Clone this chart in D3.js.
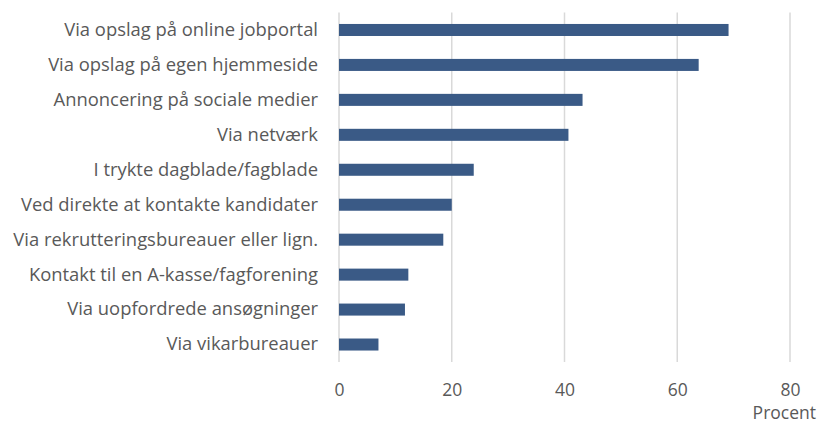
<!DOCTYPE html>
<html>
<head>
<meta charset="utf-8">
<script src="https://cdn.jsdelivr.net/npm/d3@7"></script>
<style>
  body { margin: 0; background: #fff; }
  text { font-family: "Open Sans", sans-serif; fill: #595959; }
</style>
</head>
<body>
<div class="chart"></div>
<script>
var categories = [
    "Via opslag på online jobportal",
    "Via opslag på egen hjemmeside",
    "Annoncering på sociale medier",
    "Via netværk",
    "I trykte dagblade/fagblade",
    "Ved direkte at kontakte kandidater",
    "Via rekrutteringsbureauer eller lign.",
    "Kontakt til en A-kasse/fagforening",
    "Via uopfordrede ansøgninger",
    "Via vikarbureauer"
];
var values = [69.1, 63.8, 43.2, 40.7, 23.9, 20.0, 18.5, 12.3, 11.7, 7.0];
var ticks = [0, 20, 40, 60, 80];
var axisTitle = "Procent";

var width = 819, height = 423;
var plotLeft = 339, plotRight = 790, plotTop = 12.5, plotBottom = 362;

var svg = d3.select(".chart")
    .append("svg")
    .attr("width", width)
    .attr("height", height);

var x = d3.scaleLinear().domain([0, 80]).range([plotLeft, plotRight]);
var y = d3.scaleBand()
    .domain(categories)
    .range([plotTop, plotBottom])
    .paddingInner(0.656)
    .paddingOuter(0.328);

// gridlines
svg.append("g")
    .selectAll("line")
    .data(ticks)
    .enter()
    .append("line")
    .attr("x1", function (d) { return x(d); })
    .attr("x2", function (d) { return x(d); })
    .attr("y1", plotTop)
    .attr("y2", plotBottom)
    .attr("stroke", "#d9d9d9")
    .attr("stroke-width", 1.5);

// bars
svg.append("g")
    .selectAll("rect")
    .data(values)
    .enter()
    .append("rect")
    .attr("x", x(0))
    .attr("y", function (d, i) { return y(categories[i]); })
    .attr("width", function (d) { return x(d) - x(0); })
    .attr("height", y.bandwidth())
    .attr("fill", "#3a5a86");

// x axis labels
var xAxis = d3.axisBottom(x).tickValues(ticks).tickSize(0).tickPadding(0);
var gx = svg.append("g")
    .attr("transform", "translate(0," + 390 + ")")
    .call(xAxis);
gx.select(".domain").remove();
gx.selectAll("text")
    .attr("y", 0)
    .attr("dy", "0.35em")
    .style("font-size", "17.5px")
    .style("font-family", "'Open Sans', sans-serif")
    .attr("fill", "#595959");

// y axis labels
var yAxis = d3.axisLeft(y).tickSize(0).tickPadding(0);
var gy = svg.append("g")
    .attr("transform", "translate(" + 318 + ",0)")
    .call(yAxis);
gy.select(".domain").remove();
gy.selectAll("text")
    .style("font-size", "18.4px")
    .style("font-family", "'Open Sans', sans-serif")
    .attr("fill", "#595959");

svg.append("text")
    .attr("x", 816)
    .attr("y", 419)
    .attr("text-anchor", "end")
    .style("font-size", "17.5px")
    .text(axisTitle);
</script>
</body>
</html>
